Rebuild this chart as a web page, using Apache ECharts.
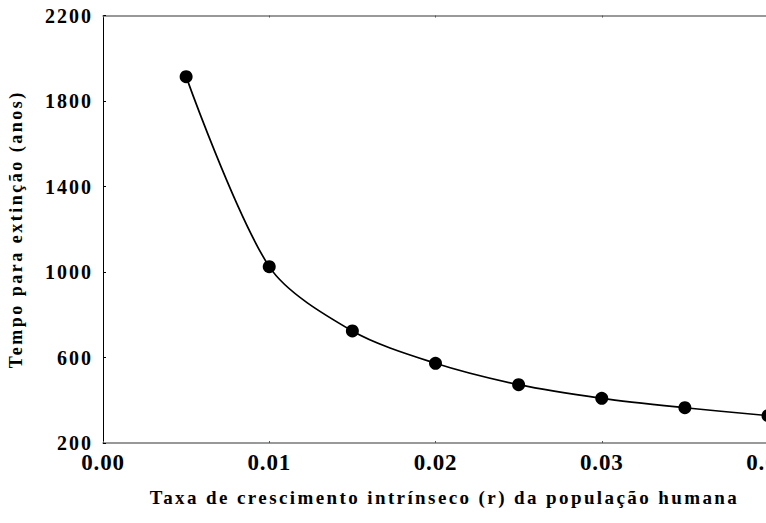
<!DOCTYPE html>
<html>
<head>
<meta charset="utf-8">
<script src="https://cdn.jsdelivr.net/npm/echarts@6/dist/echarts.min.js"></script>
<style>
  html, body { margin: 0; padding: 0; background: #fff; }
  #chart { width: 766px; height: 523px; }
  /* espaçamento entre letras, como na figura original */
  #chart text[style*="19px"] { letter-spacing: 2.4px; }
  #chart text[style*="18px"] { letter-spacing: 2.5px; }
  #chart text[style*="20px"] { letter-spacing: 2px; }
  #chart text[style*="23px"] { letter-spacing: 0.8px; }
</style>
</head>
<body>
<div id="chart"></div>
<script>
// taxa r e tempo até extinção
const taxas = [0.005, 0.010, 0.015, 0.020, 0.025, 0.030, 0.035, 0.040]
const tempos = [1914, 1025, 724, 573, 473, 409, 365, 328]

const xTitulo = 'Taxa de crescimento intrínseco (r) da população humana'
const yTitulo = 'Tempo para extinção (anos)'

const fonte = "Liberation Serif"

const chart = echarts.init(document.getElementById('chart'), null, { renderer: 'svg' })

const option = {
  backgroundColor: '#fff',
  animation: false,
  grid: { left: 103, right: -2, top: 15.5, bottom: 80, outerBoundsMode: 'none', containLabel: false },
  xAxis: [
    {
      type: 'value',
      min: 0,
      max: 0.04,
      interval: 0.01,
      name: xTitulo,
      nameLocation: 'middle',
      nameGap: 45,
      nameTextStyle: { fontFamily: fonte, fontWeight: 'bold', fontSize: 19, color: '#000', padding: [0, 0, 0, 18] },
      axisLine: { lineStyle: { color: '#777', width: 1.5 } },
      axisTick: { inside: true, length: 2, lineStyle: { color: '#555' } },
      axisLabel: {
        fontFamily: fonte, fontWeight: 'bold', fontSize: 23, color: '#000', margin: 8,
        formatter: (v) => v.toFixed(2)
      },
      splitLine: { show: false }
    },
    {
      type: 'value',
      position: 'top',
      min: 0,
      max: 0.04,
      interval: 0.01,
      axisLine: { show: true, lineStyle: { color: '#777', width: 1.5 } },
      axisTick: { inside: true, length: 2, lineStyle: { color: '#555' } },
      axisLabel: { show: false },
      splitLine: { show: false }
    }
  ],
  yAxis: {
    type: 'value',
    min: 200,
    max: 2200,
    interval: 400,
    name: yTitulo,
    nameLocation: 'middle',
    nameGap: 78,
    nameTextStyle: { fontFamily: fonte, fontWeight: 'bold', fontSize: 18, color: '#000' },
    axisLine: { show: true, lineStyle: { color: '#000', width: 1 } },
    axisTick: { inside: true, length: 3, lineStyle: { color: '#000' } },
    axisLabel: {
      fontFamily: fonte, fontWeight: 'bold', fontSize: 20, color: '#000', margin: 10,
      formatter: (v) => String(v)
    },
    splitLine: { show: false }
  },
  series: [
    {
      type: 'line',
      data: taxas.map((r, i) => [r, tempos[i]]),
      smooth: 0.3,
      symbol: 'circle',
      symbolSize: 13,
      lineStyle: { color: '#000', width: 1.7 },
      itemStyle: { color: '#000' }
    }
  ]
}

chart.setOption(option)
</script>
</body>
</html>
